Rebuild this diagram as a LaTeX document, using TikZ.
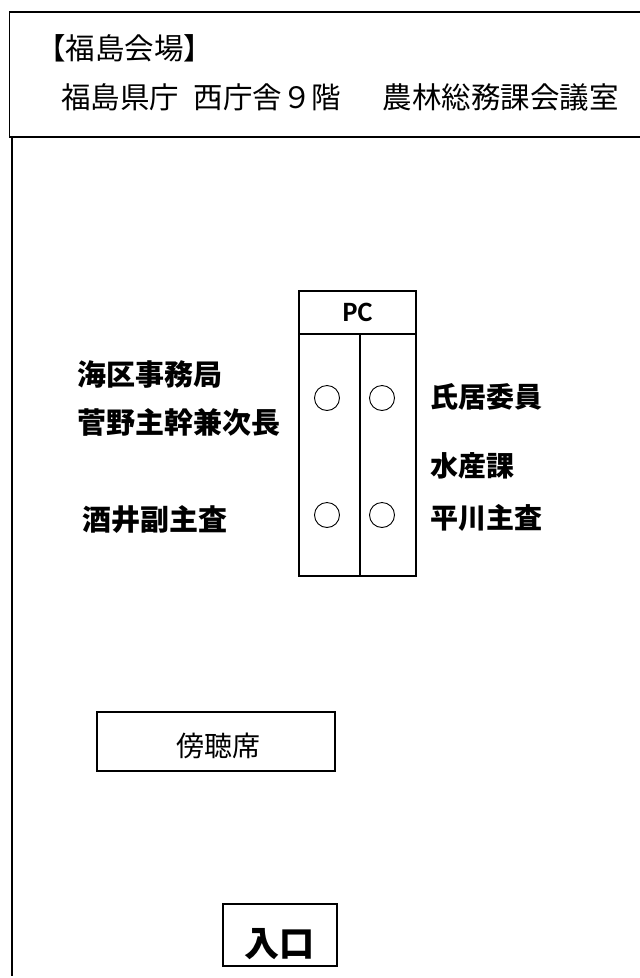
\documentclass[tikz,border=0pt]{standalone}
\usepackage{fontspec}
\newfontfamily\jpfont{Noto Sans CJK JP}
\newfontfamily\pcfont{Carlito}
\begin{document}
\begin{tikzpicture}[x=1pt,y=-1pt,
  txt/.style={inner sep=0pt, font=\jpfont\fontsize{29.5}{29.5}\selectfont},
  btxt/.style={inner sep=0pt, font=\jpfont\bfseries\fontsize{29}{29}\selectfont},
  rtxt/.style={inner sep=0pt, font=\jpfont\bfseries\fontsize{28}{28}\selectfont},
  seat/.style={circle, draw, line width=0.9pt, minimum size=25pt, inner sep=0pt},
  thick line/.style={line width=2.8pt}]
\useasboundingbox (0,0) rectangle (640,978);
% header box
\draw[line width=1.7pt] (650,12) -- (9.5,12) -- (9.5,137) -- (650,137);
\node[txt, anchor=west] (title1) at (36,48) {【福島会場】};
\node[txt, anchor=west] (title2) at (61,97) {福島県庁\hspace{0.5em}西庁舎９階\hspace{1.4em}農林総務課会議室};
% room wall
\draw[line width=2.8pt] (12,137) -- (12,976);
% table
\draw[thick line] (299,291) rectangle (416,576);
\draw[thick line] (299,334) -- (416,334);
\draw[thick line] (360,334) -- (360,576);
\node[inner sep=0pt, font=\pcfont\bfseries\fontsize{28}{28}\selectfont] (pc) at (357.5,312) {PC};
\node[seat] (s1) at (327,398) {};
\node[seat] (s2) at (382,398) {};
\node[seat] (s3) at (327,515) {};
\node[seat] (s4) at (382,515) {};
% names
\node[btxt, anchor=west] (n1) at (77,375) {海区事務局};
\node[btxt, anchor=west] (n2) at (77,422) {菅野主幹兼次長};
\node[btxt, anchor=west] (n3) at (82,520) {酒井副主査};
\node[rtxt, anchor=west] (n4) at (430,397) {氏居委員};
\node[rtxt, anchor=west] (n5) at (430,466) {水産課};
\node[rtxt, anchor=west] (n6) at (430,518) {平川主査};
% audience
\draw[line width=2.5pt] (97,712) rectangle (335,771);
\node[inner sep=0pt, font=\jpfont\fontsize{28}{28}\selectfont] (aud) at (218,746) {傍聴席};
% entrance
\draw[line width=1.3pt] (223,904) rectangle (337,966);
\node[inner sep=0pt, font=\jpfont\bfseries\fontsize{35}{35}\selectfont] (ent) at (279,944) {入口};
\end{tikzpicture}
\end{document}
